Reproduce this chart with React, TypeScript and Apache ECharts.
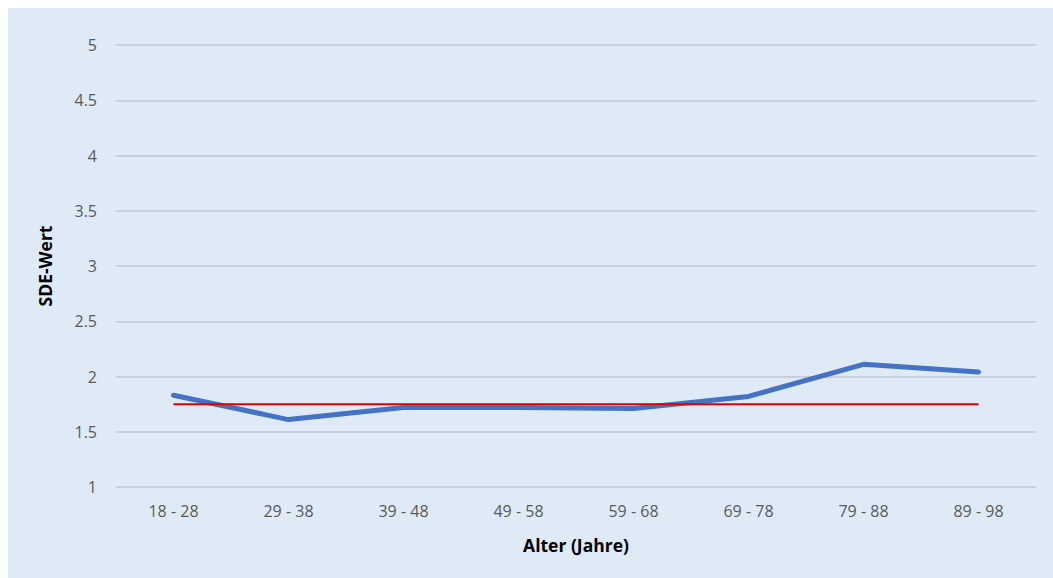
import React, { useEffect, useRef } from "react";
import * as echarts from "echarts";

const categories = ["18 - 28", "29 - 38", "39 - 48", "49 - 58", "59 - 68", "69 - 78", "79 - 88", "89 - 98"];
const sdeValues = [1.83, 1.61, 1.72, 1.72, 1.71, 1.82, 2.11, 2.04];
const referenceValues = [1.75, 1.75, 1.75, 1.75, 1.75, 1.75, 1.75, 1.75];

const FONT = "'Open Sans', 'Noto Sans', sans-serif";

export default function App() {
  const ref = useRef<HTMLDivElement>(null);
  useEffect(() => {
    if (!ref.current) return;
    const chart = echarts.init(ref.current, undefined, { renderer: "svg" });
    chart.setOption({
      animation: false,
      backgroundColor: "#DEEBF7",
      textStyle: { fontFamily: FONT },
      grid: { left: 108, top: 37, width: 920, height: 442 },
      xAxis: {
        type: "category",
        data: categories,
        boundaryGap: true,
        axisLine: { show: false },
        axisTick: { show: false },
        axisLabel: { color: "#595959", fontSize: 16, margin: 16, fontFamily: FONT },
        name: "Alter (Jahre)",
        nameLocation: "middle",
        nameGap: 49,
        nameTextStyle: { color: "#000", fontSize: 17.5, fontWeight: "bold", fontFamily: FONT },
      },
      yAxis: {
        type: "value",
        min: 1,
        max: 5,
        interval: 0.5,
        axisLine: { show: false },
        axisTick: { show: false },
        axisLabel: { color: "#595959", fontSize: 16, margin: 19, fontFamily: FONT },
        splitLine: { lineStyle: { color: "#BFC8D4", width: 1.5 } },
        name: "SDE-Wert",
        nameLocation: "middle",
        nameGap: 62,
        nameTextStyle: { color: "#000", fontSize: 17.5, fontWeight: "bold", fontFamily: FONT },
      },
      series: [
        {
          type: "line",
          data: referenceValues,
          symbol: "none",
          lineStyle: { color: "#E00000", width: 2 },
          z: 3,
        },
        {
          type: "line",
          data: sdeValues,
          symbol: "none",
          lineStyle: { color: "#4472C4", width: 5, cap: "round", join: "round" },
          z: 2,
        },
      ],
    });
    return () => chart.dispose();
  }, []);
  return (
    <div
      ref={ref}
      style={{ position: "fixed", left: 8, top: 8, width: 1045, height: 570 }}
    />
  );
}
